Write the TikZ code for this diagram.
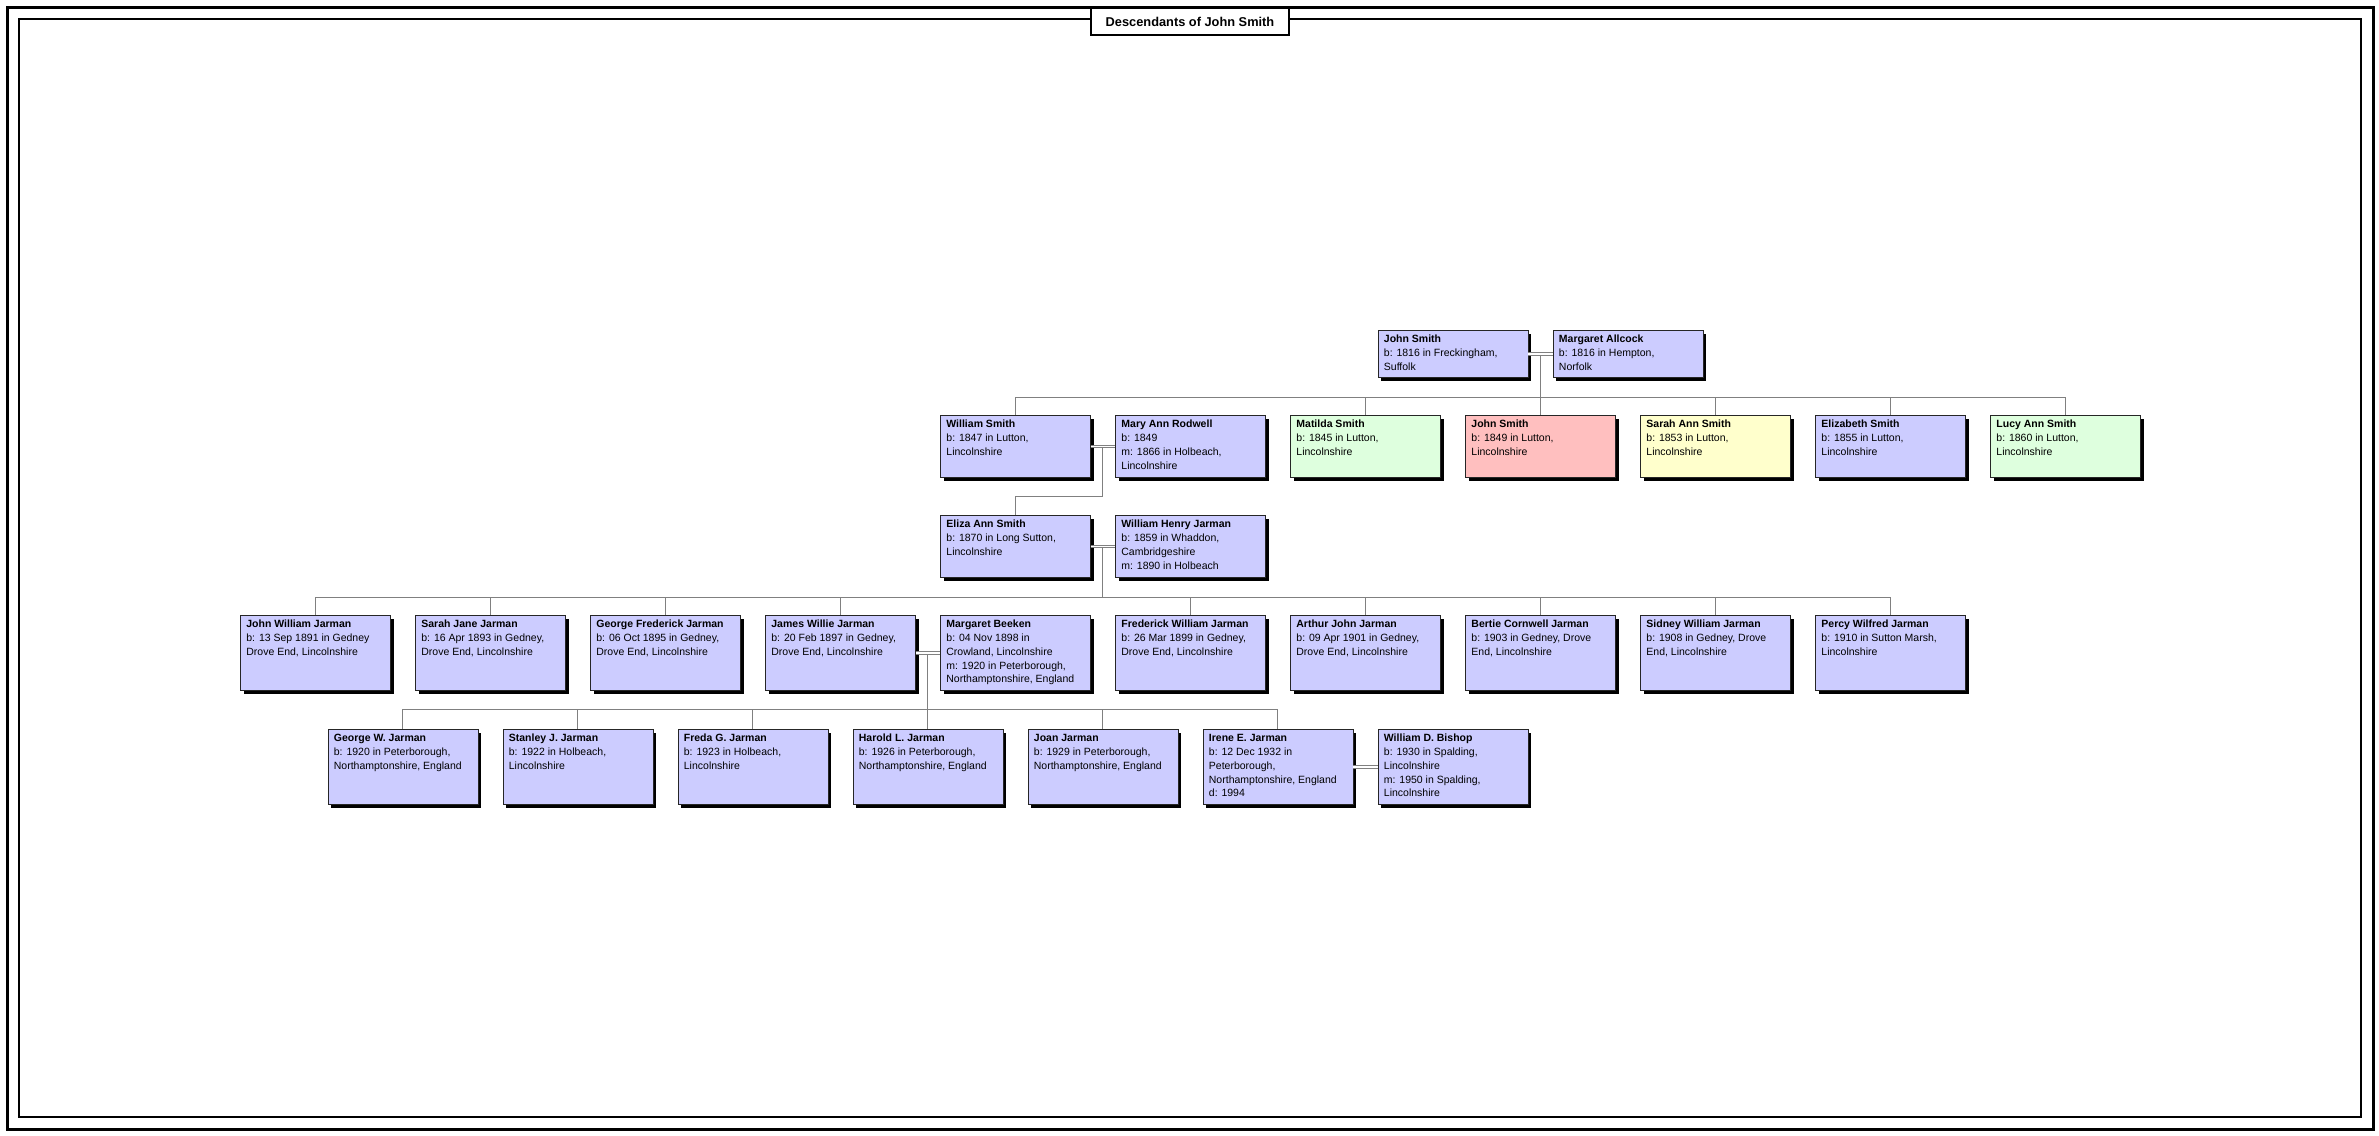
\documentclass[tikz,border=0pt]{standalone}
\usepackage{fontspec}
\setmainfont{Liberation Sans}
\usepackage{tikz}
\usetikzlibrary{calc,shadows}
\usepackage{xcolor}
\definecolor{BoxBlue}{HTML}{CCCCFF}
\definecolor{BoxGreen}{HTML}{DEFFDE}
\definecolor{BoxRed}{HTML}{FFBFBF}
\definecolor{BoxYellow}{HTML}{FFFFCC}
\definecolor{LinkGray}{HTML}{808080}
\newcommand{\pinfo}[3]{\parbox[c][#1][t]{138pt}{\raggedright\rule{0pt}{12.5pt}\textbf{#2}\\#3}}

\begin{document}
\begin{tikzpicture}[x=1pt,y=-1pt,
    person/.style={draw=black!85,line width=0.8pt,fill=BoxBlue,anchor=north west,
      inner xsep=6pt,inner ysep=0pt,font=\fontsize{10.5}{13.7}\selectfont,
      drop shadow={shadow xshift=3.5pt,shadow yshift=-3.5pt,fill=black,opacity=1}},
    link/.style={draw=LinkGray,line width=1pt},
    couple/.style={draw=LinkGray,line width=0.9pt,double=white,double distance=1.6pt}]
  \fill[white] (0,0) rectangle (2379,1135);
  \useasboundingbox (0,0) rectangle (2379,1135);
  \draw[line width=3pt] (7.5,7.5) rectangle (2373,1129);
  \draw[line width=2.2pt] (19,19) rectangle (2361,1117);
  \node[draw,line width=1.6pt,fill=white,minimum width=198pt,minimum height=27pt,
        inner sep=0pt,font=\bfseries\fontsize{12.8}{15}\selectfont] (title) at (1190,21.5)
    {Descendants of John Smith};

  \node[person] (js) at (1377.5,330) {\pinfo{47pt}{John Smith}{b: 1816 in Freckingham,\\Suffolk}};
  \node[person] (mal) at (1552.5,330) {\pinfo{47pt}{Margaret Allcock}{b: 1816 in Hempton,\\Norfolk}};

  \node[person] (ws) at (940,415) {\pinfo{62pt}{William Smith}{b: 1847 in Lutton,\\Lincolnshire}};
  \node[person] (mar) at (1115,415) {\pinfo{62pt}{Mary Ann Rodwell}{b: 1849\\m: 1866 in Holbeach,\\Lincolnshire}};
  \node[person,fill=BoxGreen] (mts) at (1290,415) {\pinfo{62pt}{Matilda Smith}{b: 1845 in Lutton,\\Lincolnshire}};
  \node[person,fill=BoxRed] (js2) at (1465,415) {\pinfo{62pt}{John Smith}{b: 1849 in Lutton,\\Lincolnshire}};
  \node[person,fill=BoxYellow] (sas) at (1640,415) {\pinfo{62pt}{Sarah Ann Smith}{b: 1853 in Lutton,\\Lincolnshire}};
  \node[person] (els) at (1815,415) {\pinfo{62pt}{Elizabeth Smith}{b: 1855 in Lutton,\\Lincolnshire}};
  \node[person,fill=BoxGreen] (las) at (1990,415) {\pinfo{62pt}{Lucy Ann Smith}{b: 1860 in Lutton,\\Lincolnshire}};

  \node[person] (eas) at (940,515) {\pinfo{62pt}{Eliza Ann Smith}{b: 1870 in Long Sutton,\\Lincolnshire}};
  \node[person] (whj) at (1115,515) {\pinfo{62pt}{William Henry Jarman}{b: 1859 in Whaddon,\\Cambridgeshire\\m: 1890 in Holbeach}};

  \node[person] (jwj) at (240,615) {\pinfo{75pt}{John William Jarman}{b: 13 Sep 1891 in Gedney\\Drove End, Lincolnshire}};
  \node[person] (sjj) at (415,615) {\pinfo{75pt}{Sarah Jane Jarman}{b: 16 Apr 1893 in Gedney,\\Drove End, Lincolnshire}};
  \node[person] (gfj) at (590,615) {\pinfo{75pt}{George Frederick Jarman}{b: 06 Oct 1895 in Gedney,\\Drove End, Lincolnshire}};
  \node[person] (jwi) at (765,615) {\pinfo{75pt}{James Willie Jarman}{b: 20 Feb 1897 in Gedney,\\Drove End, Lincolnshire}};
  \node[person] (mbk) at (940,615) {\pinfo{75pt}{Margaret Beeken}{b: 04 Nov 1898 in\\Crowland, Lincolnshire\\m: 1920 in Peterborough,\\Northamptonshire, England}};
  \node[person] (fwj) at (1115,615) {\pinfo{75pt}{Frederick William Jarman}{b: 26 Mar 1899 in Gedney,\\Drove End, Lincolnshire}};
  \node[person] (ajj) at (1290,615) {\pinfo{75pt}{Arthur John Jarman}{b: 09 Apr 1901 in Gedney,\\Drove End, Lincolnshire}};
  \node[person] (bcj) at (1465,615) {\pinfo{75pt}{Bertie Cornwell Jarman}{b: 1903 in Gedney, Drove\\End, Lincolnshire}};
  \node[person] (swj) at (1640,615) {\pinfo{75pt}{Sidney William Jarman}{b: 1908 in Gedney, Drove\\End, Lincolnshire}};
  \node[person] (pwj) at (1815,615) {\pinfo{75pt}{Percy Wilfred Jarman}{b: 1910 in Sutton Marsh,\\Lincolnshire}};

  \node[person] (gwj) at (327.5,729) {\pinfo{75pt}{George W. Jarman}{b: 1920 in Peterborough,\\Northamptonshire, England}};
  \node[person] (stj) at (502.5,729) {\pinfo{75pt}{Stanley J. Jarman}{b: 1922 in Holbeach,\\Lincolnshire}};
  \node[person] (fgj) at (677.5,729) {\pinfo{75pt}{Freda G. Jarman}{b: 1923 in Holbeach,\\Lincolnshire}};
  \node[person] (hlj) at (852.5,729) {\pinfo{75pt}{Harold L. Jarman}{b: 1926 in Peterborough,\\Northamptonshire, England}};
  \node[person] (joj) at (1027.5,729) {\pinfo{75pt}{Joan Jarman}{b: 1929 in Peterborough,\\Northamptonshire, England}};
  \node[person] (iej) at (1202.5,729) {\pinfo{75pt}{Irene E. Jarman}{b: 12 Dec 1932 in\\Peterborough,\\Northamptonshire, England\\d: 1994}};
  \node[person] (wdb) at (1377.5,729) {\pinfo{75pt}{William D. Bishop}{b: 1930 in Spalding,\\Lincolnshire\\m: 1950 in Spalding,\\Lincolnshire}};

  \coordinate (u1) at ($(js.east)!.5!(mal.west)$);
  \coordinate (d1) at ($(u1)+(0,43.5)$);
  \draw[link] (u1) -- (d1);
  \foreach \c in {ws,mts,js2,sas,els,las}
    \draw[link] (d1) -| (\c.north);
  \draw[couple] (js.east) -- (mal.west);

  \coordinate (u2) at ($(ws.east)!.5!(mar.west)$);
  \coordinate (d2) at ($(u2)+(0,50)$);
  \draw[link] (u2) -- (d2) -| (eas.north);
  \draw[couple] (ws.east) -- (mar.west);

  \coordinate (u3) at ($(eas.east)!.5!(whj.west)$);
  \coordinate (d3) at ($(u3)+(0,51)$);
  \draw[link] (u3) -- (d3);
  \foreach \c in {jwj,sjj,gfj,jwi,fwj,ajj,bcj,swj,pwj}
    \draw[link] (d3) -| (\c.north);
  \draw[couple] (eas.east) -- (whj.west);

  \coordinate (u4) at ($(jwi.east)!.5!(mbk.west)$);
  \coordinate (d4) at ($(u4)+(0,57)$);
  \draw[link] (u4) -- (d4);
  \foreach \c in {gwj,stj,fgj,hlj,joj,iej}
    \draw[link] (d4) -| (\c.north);
  \draw[couple] (jwi.east) -- (mbk.west);

  \draw[couple] (iej.east) -- (wdb.west);
\end{tikzpicture}
\end{document}
